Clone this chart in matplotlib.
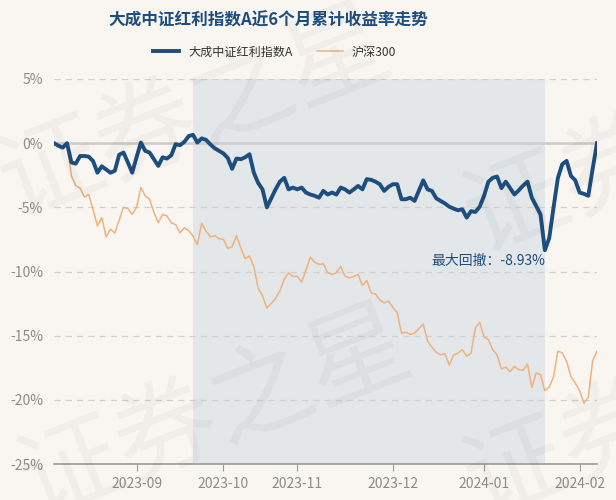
import pandas as pd
import matplotlib.pyplot as plt

plt.rcParams['font.family'] = ['Noto Sans CJK SC', 'DejaVu Sans']

# 交易日 2023-08-07 ~ 2024-02-07（去掉中秋/国庆和元旦假期）
holidays = pd.to_datetime(['2023-09-29', '2023-10-02', '2023-10-03', '2023-10-04',
                           '2023-10-05', '2023-10-06', '2024-01-01'])
dates = pd.bdate_range('2023-08-07', '2024-02-07')
dates = dates[~dates.isin(holidays)]

fund_name = '大成中证红利指数A'
index_name = '沪深300'

# 累计收益率 (%)
fund = [0.0, -0.2, -0.35, 0.0, -1.5, -1.6, -1.0, -1.0, -1.05, -1.4,
        -2.3, -1.8, -2.05, -2.3, -2.15, -0.9, -0.73, -1.5, -2.3, -1.1,
        0.05, -0.6, -0.73, -1.25, -1.77, -1.1, -1.2, -0.94, -0.08, -0.16,
        0.1, 0.55, 0.65, 0.05, 0.37, 0.26, -0.1, -0.4, -0.6, -0.8,
        -1.15, -2.0, -1.2, -1.25, -1.1, -0.86, -2.3, -3.1, -3.6, -5.0,
        -4.3, -3.6, -3.0, -2.7, -3.6, -3.46, -3.6, -3.46, -3.85, -4.0,
        -4.1, -4.25, -3.72, -4.0, -3.85, -4.0, -3.46, -3.6, -3.85, -3.6,
        -3.33, -3.6, -2.8, -2.86, -3.0, -3.2, -3.72, -3.4, -3.2, -3.2,
        -4.37, -4.37, -4.25, -4.5, -3.7, -2.9, -3.6, -3.72, -4.3, -4.5,
        -4.7, -4.95, -5.1, -5.23, -5.15, -5.8, -5.3, -5.36, -4.95, -4.1,
        -3.0, -2.7, -2.6, -3.5, -3.0, -3.5, -4.0, -3.67, -3.3, -3.0,
        -4.25, -4.9, -5.55, -8.34, -7.4, -5.0, -2.7, -1.64, -1.38, -2.55,
        -2.9, -3.85, -3.95, -4.1, -2.0, 0.0]

hs300 = [0.0, -0.2, -0.35, 0.0, -2.55, -3.3, -3.5, -4.2, -4.0, -5.2,
         -6.45, -5.8, -7.3, -6.7, -7.0, -6.0, -5.0, -5.1, -5.55, -5.0,
         -3.46, -4.1, -4.37, -5.4, -6.2, -5.55, -5.67, -6.2, -6.35, -7.0,
         -6.6, -6.8, -7.24, -7.9, -6.25, -6.85, -7.3, -7.2, -7.45, -7.5,
         -8.2, -8.07, -7.2, -8.15, -9.0, -8.8, -9.6, -11.3, -11.9, -12.85,
         -12.5, -12.1, -11.5, -10.6, -10.1, -10.4, -10.36, -10.83, -9.9, -8.88,
         -9.27, -9.45, -9.4, -10.1, -10.23, -10.1, -9.6, -10.36, -10.5, -10.4,
         -10.23, -11.1, -10.7, -11.67, -11.75, -12.2, -12.45, -12.3, -12.8, -13.2,
         -14.8, -14.74, -14.9, -14.8, -14.45, -14.1, -15.44, -15.9, -16.3, -16.5,
         -16.4, -17.3, -16.5, -16.35, -16.1, -16.6, -16.35, -14.4, -13.96, -15.1,
         -15.3, -16.1, -16.5, -17.6, -17.45, -17.8, -17.4, -17.66, -17.7, -17.2,
         -19.04, -17.9, -18.05, -19.3, -19.0, -18.2, -16.2, -16.35, -17.0, -18.2,
         -18.7, -19.3, -20.26, -19.8, -16.95, -16.2]

max_dd_label = '最大回撤：-8.93%'

x = list(range(len(dates)))

# 最大回撤区间：峰值 -> 谷值
trough = fund.index(min(fund))
peak = fund.index(max(fund[:trough + 1]))

bg = '#f9f6f2'
blue = '#1d4e7e'
orange = '#efb27c'

fig = plt.figure(figsize=(6.16, 5.0), dpi=100, facecolor=bg)
ax = fig.add_axes([54 / 616, 36 / 500, 543 / 616, 385 / 500])
ax.set_facecolor(bg)

ax.axvspan(peak, trough, color='#e3e7ea', zorder=1, lw=0)

for yv in [5, -5, -10, -15, -20]:
    ax.axhline(yv, color='#d0d0d0', lw=0.9, ls=(0, (5, 4)), zorder=1.5)
ax.axhline(0, color='#cfcfcf', lw=2, zorder=1.5)

ax.plot(x, hs300, color=orange, lw=1.1, zorder=3, label=index_name)
ax.plot(x, fund, color=blue, lw=2.8, zorder=4, label=fund_name)

ax.text(trough, fund[trough] - 0.3, max_dd_label, color=blue, fontsize=10,
        ha='right', va='top', zorder=5)

ax.set_xlim(0, len(x) - 1)
ax.set_ylim(-25, 5)
ax.set_yticks([5, 0, -5, -10, -15, -20, -25])
ax.set_yticklabels([f'{v}%' for v in [5, 0, -5, -10, -15, -20, -25]])

month_pos = []
month_lab = []
for i in range(1, len(dates)):
    if dates[i].month != dates[i - 1].month:
        month_pos.append(i)
        month_lab.append(dates[i].strftime('%Y-%m'))
ax.set_xticks(month_pos)
ax.set_xticklabels(month_lab)

for sp in ['top', 'right', 'left']:
    ax.spines[sp].set_visible(False)
ax.spines['bottom'].set_color('#9a9a9a')
ax.spines['bottom'].set_linewidth(1.2)
ax.tick_params(axis='y', length=0, colors='#8c8c8c', labelsize=10, pad=8)
ax.tick_params(axis='x', length=5, color='#9a9a9a', colors='#8c8c8c', labelsize=10, pad=4)

# 水印
for (wx, wy) in [(4, 189), (24, 489), (469, 224), (469, 489)]:
    fig.text(wx / 616, 1 - wy / 500, '证券之星', fontsize=74, color='#000000', alpha=0.035,
             rotation=21.5, rotation_mode='anchor', ha='left', va='center', zorder=10)

fig.text(0.435, 0.96, '大成中证红利指数A近6个月累计收益率走势', ha='center', va='center',
         fontsize=12, fontweight='bold', color=blue)

handles, labels = ax.get_legend_handles_labels()
fig.legend(handles[::-1], labels[::-1], loc='center', bbox_to_anchor=(0.446, 0.896), ncol=2,
           frameon=False, fontsize=8.7, handlelength=2.15, handletextpad=0.75,
           columnspacing=2.0, labelcolor='#333333')

fig.savefig('out.png', dpi=100, facecolor=bg)
